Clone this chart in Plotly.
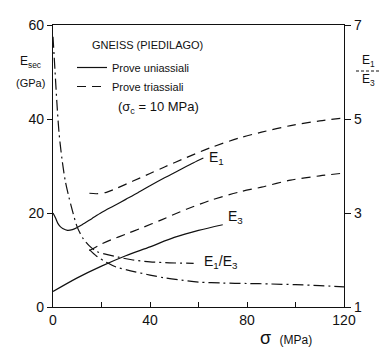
import plotly.graph_objects as go

# ---- data ----
sigma_uni_E1 = [0, 1, 2, 3, 4, 6, 8, 10, 12, 16, 20, 25, 30, 35, 40, 46, 52, 58, 62]
E1_uni = [20.0, 19.0, 17.8, 17.1, 16.7, 16.3, 16.45, 16.9, 17.5, 18.8, 20.1, 21.5, 22.9, 24.3, 25.8, 27.5, 29.1, 30.7, 31.7]

sigma_uni_E3 = [0, 10, 20, 30, 40, 50, 60, 70]
E3_uni = [3.3, 6.2, 8.7, 10.9, 12.8, 14.8, 16.3, 17.5]

sigma_tri_E1 = [15, 18, 22, 26, 33, 40, 46, 55, 65, 77, 86, 98, 110, 120]
E1_tri = [24.2, 24.1, 24.4, 25.2, 26.8, 28.4, 29.8, 31.8, 33.9, 36.0, 37.2, 38.6, 39.6, 40.2]

sigma_tri_E3 = [15, 20, 24, 30, 36, 45, 55, 65, 77, 86, 98, 110, 120]
E3_tri = [12.0, 13.4, 14.3, 15.5, 16.7, 18.6, 20.8, 22.7, 24.5, 25.5, 27.0, 27.9, 28.5]

sigma_uni_ratio = [0, 0.8, 1.6, 2.5, 3.7, 5, 6.5, 8, 10, 12.5, 15, 18, 22, 27, 33, 40, 48, 58]
ratio_uni = [6.75, 6.05, 5.35, 4.7, 4.15, 3.7, 3.35, 3.05, 2.7, 2.45, 2.3, 2.18, 2.12, 2.06, 2.0, 1.96, 1.94, 1.93]

sigma_tri_ratio = [15, 18, 22, 26, 32, 40, 46, 53, 60, 70, 80, 90, 100, 110, 120]
ratio_tri = [2.22, 2.08, 1.95, 1.85, 1.77, 1.68, 1.62, 1.57, 1.53, 1.51, 1.50, 1.49, 1.475, 1.455, 1.43]

x_ticks = [0, 20, 40, 60, 80, 100, 120]
x_ticklabels = ["0", "", "40", "", "80", "", "120"]
y_ticks = [0, 20, 40, 60]
y2_ticks = [1, 3, 5, 7]

FONT = "Liberation Sans, Arial, sans-serif"
INK = "#111111"
DASH = "9px,6px"
DASHDOT = "11px,4px,2px,4px"

fig = go.Figure()
line_w = 1.2

fig.add_trace(go.Scatter(x=sigma_uni_E1, y=E1_uni, mode="lines", name="Prove uniassiali",
                         line=dict(color=INK, width=line_w, shape="spline", smoothing=0.8), showlegend=True))
fig.add_trace(go.Scatter(x=sigma_tri_E1, y=E1_tri, mode="lines", name="Prove triassiali",
                         line=dict(color=INK, width=line_w, dash=DASH, shape="spline", smoothing=0.8), showlegend=True))
fig.add_trace(go.Scatter(x=sigma_uni_E3, y=E3_uni, mode="lines", name="E3 uniassiali",
                         line=dict(color=INK, width=line_w, shape="spline", smoothing=0.8), showlegend=False))
fig.add_trace(go.Scatter(x=sigma_tri_E3, y=E3_tri, mode="lines", name="E3 triassiali",
                         line=dict(color=INK, width=line_w, dash=DASH, shape="spline", smoothing=0.8), showlegend=False))
fig.add_trace(go.Scatter(x=sigma_uni_ratio, y=ratio_uni, mode="lines", name="E1/E3 uniassiali", yaxis="y2",
                         line=dict(color=INK, width=line_w, dash=DASHDOT, shape="spline", smoothing=0.8), showlegend=False))
fig.add_trace(go.Scatter(x=sigma_tri_ratio, y=ratio_tri, mode="lines", name="E1/E3 triassiali", yaxis="y2",
                         line=dict(color=INK, width=line_w, dash=DASHDOT, shape="spline", smoothing=0.8), showlegend=False))

axis_common = dict(showline=True, linecolor=INK, linewidth=1.3, showgrid=False, zeroline=False,
                   tickcolor=INK, tickfont=dict(family=FONT, size=14, color=INK))

fig.update_layout(
    width=382, height=347,
    margin=dict(l=53, r=38, t=25, b=40),
    paper_bgcolor="white", plot_bgcolor="white",
    font=dict(family=FONT, size=11, color=INK),
    xaxis=dict(range=[0, 120], tickvals=x_ticks, ticktext=x_ticklabels, ticks="inside", ticklen=5,
               mirror=True, automargin=False, **axis_common),
    yaxis=dict(range=[0, 60], tickvals=y_ticks, ticks="outside", ticklen=5, automargin=False, **axis_common),
    yaxis2=dict(range=[1, 7], tickvals=y2_ticks, ticks="outside", ticklen=6, overlaying="y", side="right",
                automargin=False, **axis_common),
    legend=dict(x=(72 - 53) / 291, y=(307 - 53) / 282, xanchor="left", yanchor="top", bgcolor="rgba(0,0,0,0)",
                font=dict(family=FONT, size=11, color=INK), itemwidth=30, tracegroupgap=0),
    showlegend=True,
)


def pax(px):
    return (px - 53) / 291


def pay(py):
    return (307 - py) / 282


annotations = [
    dict(text="GNEISS (PIEDILAGO)", x=pax(90), y=pay(45), xanchor="left", font=dict(size=11)),
    dict(text="(σ<sub>c</sub> = 10 MPa)", x=pax(116), y=pay(107), xanchor="left", font=dict(size=13)),
    dict(text="E<sub>sec</sub>", x=pax(18), y=pay(62), xanchor="left", font=dict(size=12)),
    dict(text="(GPa)", x=pax(14), y=pay(83), xanchor="left", font=dict(size=11)),
    dict(text="E<sub>1</sub>", x=pax(360), y=pay(61), xanchor="left", font=dict(size=12)),
    dict(text="E<sub>3</sub>", x=pax(360), y=pay(80), xanchor="left", font=dict(size=12)),
    dict(text="σ <span style='font-size:12px'> (MPa)</span>", x=pax(258), y=pay(338), xanchor="left",
         font=dict(size=18)),
]
for a in annotations:
    a.update(xref="paper", yref="paper", yanchor="middle", showarrow=False)

annotations += [
    dict(text="E<sub>1</sub>", x=63.5, y=31.8, xanchor="left", yanchor="middle", showarrow=False,
         font=dict(size=14)),
    dict(text="E<sub>3</sub>", x=71.5, y=19.2, xanchor="left", yanchor="middle", showarrow=False,
         font=dict(size=14)),
    dict(text="E<sub>1</sub>/E<sub>3</sub>", x=61.5, y=9.6, xanchor="left", yanchor="middle", showarrow=False,
         font=dict(size=14)),
]
fig.update_layout(annotations=annotations)
fig.add_shape(type="line", xref="paper", yref="paper", x0=pax(356), x1=pax(380),
              y0=pay(71), y1=pay(71), line=dict(color=INK, width=1, dash="3px,2px"))

fig.write_html("out.html", config={"displayModeBar": False},
               post_script="document.body.style.margin='0px';")
